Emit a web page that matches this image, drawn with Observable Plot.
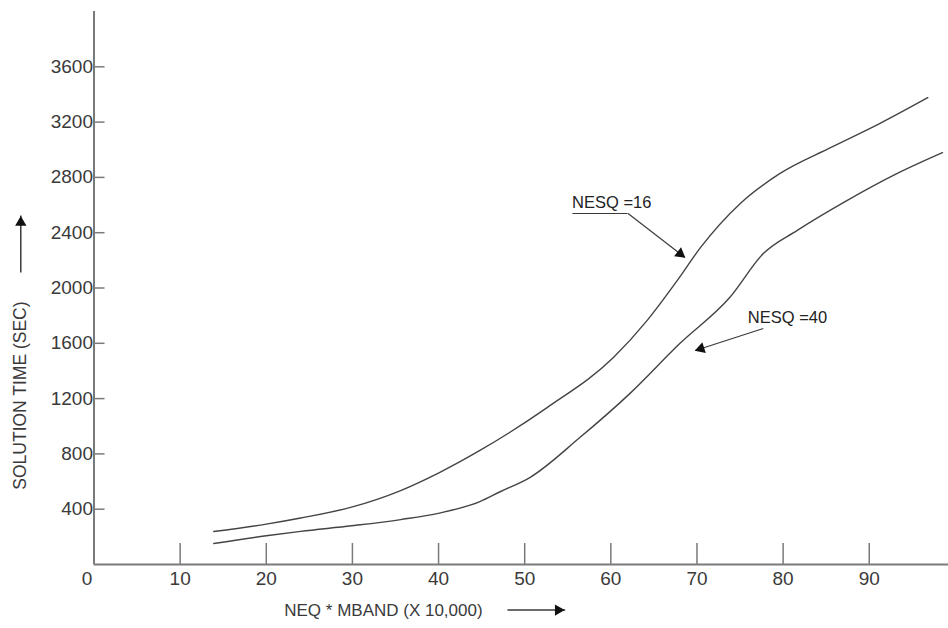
<!DOCTYPE html>
<html>
<head>
<meta charset="utf-8">
<script src="https://cdn.jsdelivr.net/npm/d3@7"></script>
<script src="https://cdn.jsdelivr.net/npm/@observablehq/plot@0.6"></script>
<style>
  html, body { margin: 0; padding: 0; background: #fff; }
</style>
</head>
<body>
<div id="chart"></div>
<script>
// ---- data ----
const xTicks = [10, 20, 30, 40, 50, 60, 70, 80, 90];
const yTicks = [400, 800, 1200, 1600, 2000, 2400, 2800, 3200, 3600];

const nesq16X = [13.9, 20, 24, 29.9, 35.6, 40.1, 44.8, 52.6, 60.3, 64.2, 67.7, 70.4, 75, 79.6, 85.5, 91.2, 96.8];
const nesq16Y = [239, 292, 336, 415, 535, 665, 825, 1135, 1497, 1764, 2053, 2292, 2610, 2827, 3015, 3189, 3377];

const nesq40X = [13.9, 20, 24, 29.9, 35.6, 40.1, 44.8, 47.2, 50.6, 56.4, 62.2, 68, 73.8, 77.7, 81.6, 87.4, 93.2, 98.5];
const nesq40Y = [152, 208, 240, 280, 325, 372, 455, 528, 629, 918, 1236, 1598, 1931, 2249, 2415, 2632, 2827, 2979];

const labelNames = ["NESQ =16", "NESQ =40"];
const labelX = [55.5, 75.9];
const labelY = [2618, 1787];
// leader arrows: start and tip (data coordinates)
const leadX1 = [62.0, 77.7];
const leadY1 = [2539, 1707];
const leadX2 = [68.6, 69.8];
const leadY2 = [2221, 1548];
const underlineX = [55.6, 62.0];
const underlineY = 2539;

const xTitle = "NEQ * MBAND (X 10,000)";
const yTitle = "SOLUTION TIME (SEC)";

// ---- build tables ----
const series = [
  ...nesq16X.map((x, i) => ({x, y: nesq16Y[i], s: "16"})),
  ...nesq40X.map((x, i) => ({x, y: nesq40Y[i], s: "40"}))
];
const labels = labelNames.map((t, i) => ({t, x: labelX[i], y: labelY[i]}));
const leaders = leadX1.map((x1, i) => ({x1, y1: leadY1[i], x2: leadX2[i], y2: leadY2[i]}));

const ink = "#3a3a3a";
const axisInk = "#7a7a7a";
const font = "'Liberation Sans', Arial, sans-serif";

const xDomain = [0, 99.2];
const yDomain = [0, 4000];

const sx = d3.scaleLinear(xDomain, [93.5, 948]);
const sy = d3.scaleLinear(yDomain, [564, 11]);

function headPoint(l, back) {
  const X1 = sx(l.x1), Y1 = sy(l.y1), X2 = sx(l.x2), Y2 = sy(l.y2);
  const len = Math.hypot(X2 - X1, Y2 - Y1);
  const ux = (X2 - X1) / len, uy = (Y2 - Y1) / len;
  return {x: sx.invert(X2 - ux * back), y: sy.invert(Y2 - uy * back), r: Math.atan2(X2 - X1, -(Y2 - Y1)) * 180 / Math.PI};
}
const heads = leaders.map(l => headPoint(l, 6));

// axis title arrows
const yArrow = {x1: -8.5, y1: 2112, x2: -8.5, y2: 2524};
const xArrow = {x1: 48.0, y1: -330, x2: 54.7, y2: -330};
const titleHeads = [headPoint(yArrow, 7), headPoint(xArrow, 7)];

const chart = Plot.plot({
  width: 948,
  height: 628,
  marginLeft: 93.5,
  marginRight: 0,
  marginTop: 11,
  marginBottom: 64,
  style: {fontFamily: font, fontSize: "18px", color: ink, background: "#fff", overflow: "visible"},
  x: {domain: xDomain, axis: null},
  y: {domain: yDomain, axis: null},
  marks: [
    // axis lines
    Plot.ruleY([0], {x1: 0, x2: xDomain[1], stroke: axisInk, strokeWidth: 2}),
    Plot.ruleX([0], {y1: 0, y2: yDomain[1], stroke: axisInk, strokeWidth: 2}),
    // x tick marks (inward, upward)
    Plot.ruleX(xTicks, {y1: 0, y2: 152, stroke: axisInk, strokeWidth: 1.5}),
    // y tick marks (inward, rightward)
    Plot.ruleY(yTicks, {x1: 0, x2: 1.28, stroke: axisInk, strokeWidth: 1.5}),
    // tick labels
    Plot.text(xTicks, {x: d => d, y: 0, text: d => String(d), dy: 14, fill: ink, fontSize: 19, letterSpacing: 1.5}),
    Plot.text([0], {x: 0, y: 0, text: d => String(d), dy: 14, dx: -7, fill: ink, fontSize: 19}),
    Plot.text(yTicks, {x: 0, y: d => d, text: d => String(d), textAnchor: "end", dx: -1, fill: ink, fontSize: 19, letterSpacing: 2.2}),
    // curves
    Plot.line(series, {x: "x", y: "y", z: "s", curve: "monotone-x", stroke: "#444", strokeWidth: 1.4}),
    // annotations
    Plot.text(labels, {x: "x", y: "y", text: "t", textAnchor: "start", fill: "#222", fontSize: 16.5, letterSpacing: 1}),
    Plot.ruleY([underlineY], {x1: underlineX[0], x2: underlineX[1], stroke: ink, strokeWidth: 1.2}),
    Plot.link(leaders, {x1: "x1", y1: "y1", x2: "x2", y2: "y2", stroke: ink, strokeWidth: 1.2}),
    Plot.dot(heads, {x: "x", y: "y", rotate: "r", symbol: "triangle", r: 4.2, fill: "#111", stroke: "none"}),
    // axis titles
    Plot.text([yTitle], {x: -8.5, y: 1222, text: d => d, rotate: -90, fill: ink, fontSize: 17.5, letterSpacing: 0.3}),
    Plot.text([xTitle], {x: 33.6, y: -333, text: d => d, fill: ink, fontSize: 17, letterSpacing: 0.5}),
    Plot.link([yArrow, xArrow], {x1: "x1", y1: "y1", x2: "x2", y2: "y2", stroke: ink, strokeWidth: 1.5}),
    Plot.dot(titleHeads, {x: "x", y: "y", rotate: "r", symbol: "triangle", r: 4.2, fill: "#111", stroke: "none"})
  ]
});

document.getElementById("chart").appendChild(chart);
</script>
</body>
</html>
